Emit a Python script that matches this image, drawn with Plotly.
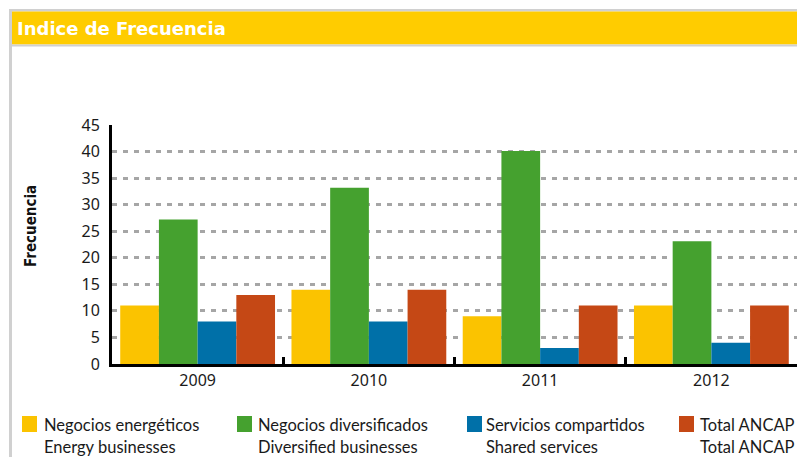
import plotly.graph_objects as go

years = ["2009", "2010", "2011", "2012"]
energia = [11, 14, 9, 11]
diversificados = [27.2, 33.2, 40.1, 23.1]
compartidos = [8, 8, 3, 4]
total_ancap = [13, 14, 11, 11]

series_es = ["Negocios energéticos", "Negocios diversificados", "Servicios compartidos", "Total ANCAP"]
series_en = ["Energy businesses", "Diversified businesses", "Shared services", "Total ANCAP"]
colors = ["#FBC300", "#45A12F", "#0070A8", "#C54815"]

# the page body has an 8px margin on every side; keep the figure inside the window
OFF = 8
W, H = 805 - 2 * OFF, 465 - 2 * OFF
L, R, T = 112 - OFF, 0, 125 - OFF
B = H - (364 - OFF)
PW, PH = W - L - R, H - T - B


def px_x(x):
    return (x - OFF - L) / PW


def px_y(y):
    return (H - B - (y - OFF)) / PH


fig = go.Figure()
for name, vals, col in zip(series_es, [energia, diversificados, compartidos, total_ancap], colors):
    fig.add_trace(go.Bar(x=years, y=vals, name=name, marker_color=col,
                         marker_line_width=0, showlegend=False))

fig.update_layout(
    width=W, height=H,
    margin=dict(l=L, r=R, t=T, b=B),
    plot_bgcolor="white", paper_bgcolor="white",
    barmode="group", bargap=0.096, bargroupgap=0,
    font=dict(family="Noto Sans, Open Sans, sans-serif", size=16, color="#1a1a1a"),
)
fig.update_yaxes(range=[0, 45], dtick=5, showline=True, linecolor="black", linewidth=3,
                 showgrid=True, gridcolor="#A6A6A6", gridwidth=3, griddash="5px,6px",
                 zeroline=False, ticks="", ticklabelstandoff=6, tickfont=dict(size=16))
fig.update_xaxes(showline=True, linecolor="black", linewidth=3, ticks="inside",
                 tickson="boundaries", ticklen=7, tickwidth=3, tickcolor="black",
                 tickfont=dict(size=16))

# frame and header
gray = "#D0D0D0"
shapes = [
    dict(type="rect", xref="paper", yref="paper", x0=px_x(9), x1=px_x(806), y0=px_y(9), y1=px_y(11.5),
         fillcolor=gray, line_width=0, layer="below"),
    dict(type="rect", xref="paper", yref="paper", x0=px_x(9), x1=px_x(12), y0=px_y(9), y1=px_y(466),
         fillcolor=gray, line_width=0, layer="below"),
    dict(type="rect", xref="paper", yref="paper", x0=px_x(12), x1=px_x(806), y0=px_y(11.5), y1=px_y(44.5),
         fillcolor="#FFCC00", line_width=0, layer="below"),
    dict(type="rect", xref="paper", yref="paper", x0=px_x(12), x1=px_x(806), y0=px_y(44.5), y1=px_y(46.5),
         fillcolor=gray, line_width=0, layer="below"),
]
annotations = [
    dict(text="Indice de Frecuencia", xref="paper", yref="paper", x=px_x(15), y=px_y(28.5),
         xanchor="left", yanchor="middle", showarrow=False,
         font=dict(family="DejaVu Sans", size=18, color="white", weight="bold")),
    dict(text="<b>Frecuencia</b>", xref="paper", yref="paper", x=px_x(31), y=px_y(226),
         textangle=-90, xanchor="center", yanchor="middle", showarrow=False,
         font=dict(family="Liberation Sans Narrow, DejaVu Sans Condensed", size=15, color="#111")),
]

# legend drawn by hand
leg_x = [22, 237, 467, 679]
text_x = [45, 259, 487, 701]
leg_font = dict(family="Lato, Noto Sans, sans-serif", size=16.5, color="#1a1a1a")
for lx, tx, es, en, col in zip(leg_x, text_x, series_es, series_en, colors):
    shapes.append(dict(type="rect", xref="paper", yref="paper", x0=px_x(lx), x1=px_x(lx + 15),
                       y0=px_y(416), y1=px_y(432), fillcolor=col, line_width=0))
    annotations.append(dict(text=es, xref="paper", yref="paper", x=px_x(tx - 2), y=px_y(436),
                            xanchor="left", yanchor="bottom", showarrow=False, borderpad=0,
                            font=leg_font))
    annotations.append(dict(text=en, xref="paper", yref="paper", x=px_x(tx - 2), y=px_y(436.5),
                            xanchor="left", yanchor="top", showarrow=False, borderpad=0,
                            font=leg_font))

fig.update_layout(shapes=shapes, annotations=annotations)
fig.write_html("out.html")
